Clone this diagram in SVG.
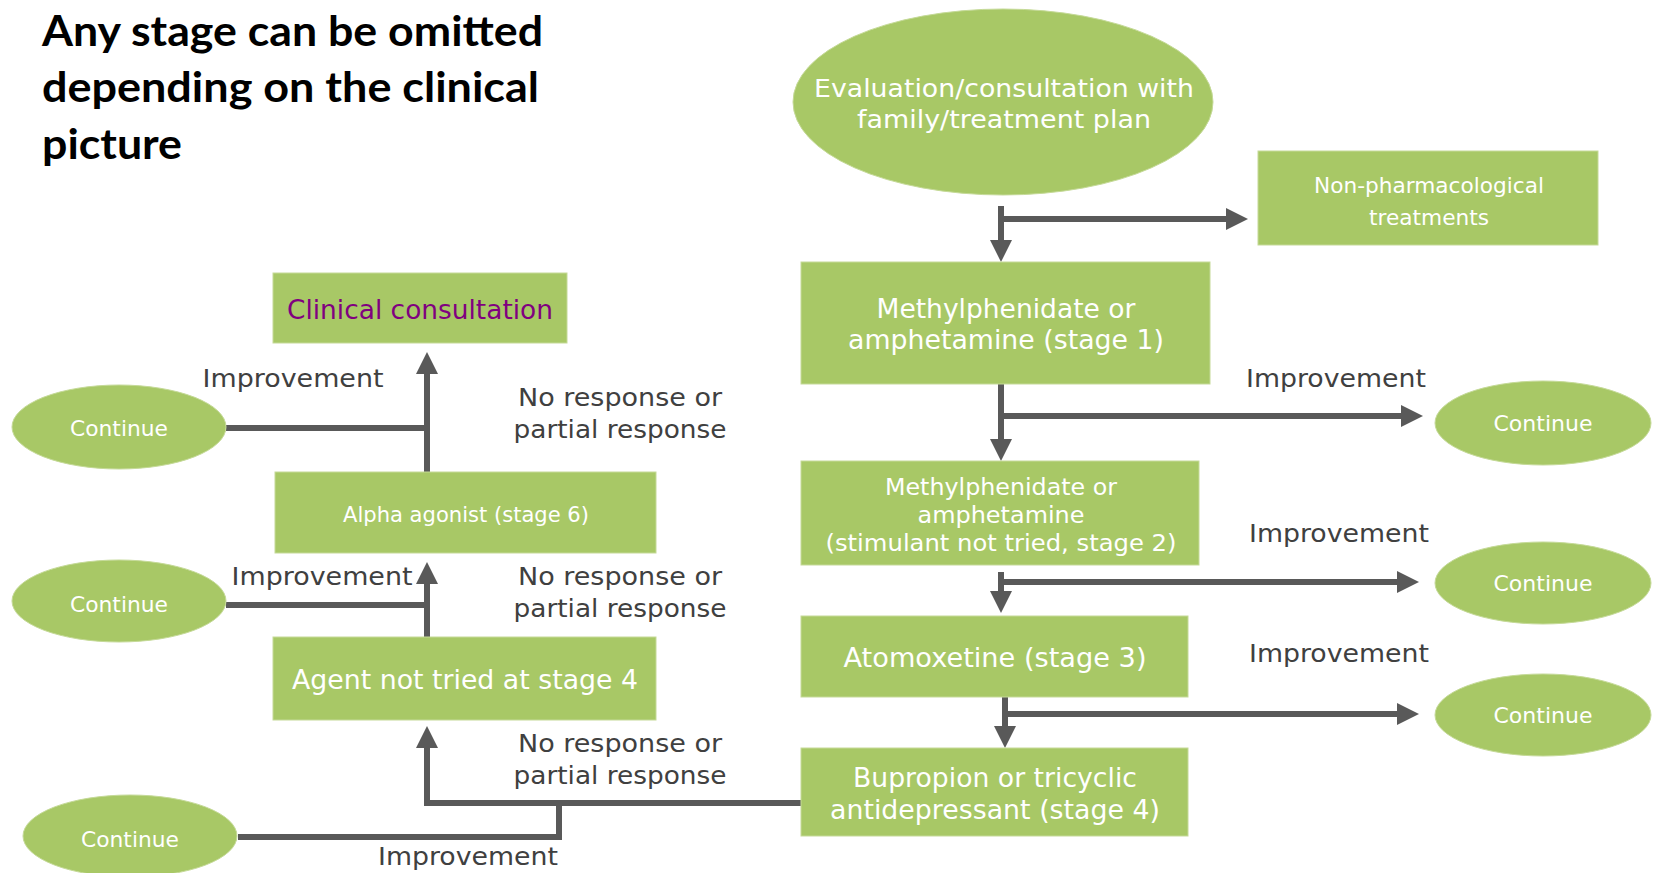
<svg xmlns="http://www.w3.org/2000/svg" width="1657" height="873" viewBox="0 0 1657 873">
<style>
.node{fill:#A8C866;stroke:#C5DA98;stroke-width:1}
.wt{fill:#FFFFFF;font-family:"DejaVu Sans",Verdana,sans-serif;text-anchor:middle}
.lbl{fill:#404040;font-family:"DejaVu Sans",Verdana,sans-serif;text-anchor:middle;font-size:25.5px}
.title{fill:#000000;font-family:Lato,"Open Sans",sans-serif;font-weight:bold;font-size:42px}
.con{fill:none;stroke:#595959;stroke-width:6}
</style>
<defs>
<marker id="ah" markerUnits="userSpaceOnUse" viewBox="0 0 22 22" markerWidth="22" markerHeight="22" refX="2" refY="11" orient="auto">
<path d="M0,0 L22,11 L0,22 z" fill="#595959"/>
</marker>
</defs>
<rect width="1657" height="873" fill="#FFFFFF"/>
<g id="title">
<text class="title" x="42" y="46" textLength="501" lengthAdjust="spacingAndGlyphs">Any stage can be omitted</text>
<text class="title" x="42" y="102" textLength="497" lengthAdjust="spacingAndGlyphs">depending on the clinical</text>
<text class="title" x="42" y="159" textLength="140" lengthAdjust="spacingAndGlyphs">picture</text>
</g>
<g id="connectors">
<path class="con" d="M1001,206 V242" marker-end="url(#ah)"/>
<path class="con" d="M998,219 H1228" marker-end="url(#ah)"/>
<path class="con" d="M1001,384 V441" marker-end="url(#ah)"/>
<path class="con" d="M1001,416 H1403" marker-end="url(#ah)"/>
<path class="con" d="M1001,572 V593" marker-end="url(#ah)"/>
<path class="con" d="M998,582 H1399" marker-end="url(#ah)"/>
<path class="con" d="M1005,697 V728" marker-end="url(#ah)"/>
<path class="con" d="M1005,714 H1399" marker-end="url(#ah)"/>
<path class="con" d="M801,803 H427 V746" marker-end="url(#ah)"/>
<path class="con" d="M559,803 V837 H238"/>
<path class="con" d="M427,637 V582" marker-end="url(#ah)"/>
<path class="con" d="M427,605 H226"/>
<path class="con" d="M427,472 V372" marker-end="url(#ah)"/>
<path class="con" d="M427,428 H226"/>
</g>
<g id="labels">
<text class="lbl" x="1336" y="387" textLength="180" lengthAdjust="spacingAndGlyphs">Improvement</text>
<text class="lbl" x="1339" y="542" textLength="180" lengthAdjust="spacingAndGlyphs">Improvement</text>
<text class="lbl" x="1339" y="662" textLength="180" lengthAdjust="spacingAndGlyphs">Improvement</text>
<text class="lbl" x="468" y="865" textLength="180" lengthAdjust="spacingAndGlyphs">Improvement</text>
<text class="lbl" x="322" y="585" textLength="181" lengthAdjust="spacingAndGlyphs">Improvement</text>
<text class="lbl" x="293" y="387" textLength="181" lengthAdjust="spacingAndGlyphs">Improvement</text>
<text class="lbl" x="620" y="406" textLength="204" lengthAdjust="spacingAndGlyphs">No response or</text>
<text class="lbl" x="620" y="438" textLength="213" lengthAdjust="spacingAndGlyphs">partial response</text>
<text class="lbl" x="620" y="585" textLength="204" lengthAdjust="spacingAndGlyphs">No response or</text>
<text class="lbl" x="620" y="617" textLength="213" lengthAdjust="spacingAndGlyphs">partial response</text>
<text class="lbl" x="620" y="752" textLength="204" lengthAdjust="spacingAndGlyphs">No response or</text>
<text class="lbl" x="620" y="784" textLength="213" lengthAdjust="spacingAndGlyphs">partial response</text>
</g>
<g id="evaluation">
<ellipse class="node" cx="1003" cy="102" rx="210" ry="93"/>
<text class="wt" x="1004" y="97" font-size="25" textLength="380" lengthAdjust="spacingAndGlyphs">Evaluation/consultation with</text>
<text class="wt" x="1004" y="128" font-size="25" textLength="294" lengthAdjust="spacingAndGlyphs">family/treatment plan</text>
</g>
<g id="non-pharm">
<rect class="node" x="1258" y="151" width="340" height="94"/>
<text class="wt" x="1429" y="193" font-size="22" textLength="230" lengthAdjust="spacingAndGlyphs">Non-pharmacological</text>
<text class="wt" x="1429" y="225" font-size="22" textLength="120" lengthAdjust="spacingAndGlyphs">treatments</text>
</g>
<g id="stage1">
<rect class="node" x="801" y="262" width="409" height="122"/>
<text class="wt" x="1006" y="318" font-size="26" textLength="259" lengthAdjust="spacingAndGlyphs">Methylphenidate or</text>
<text class="wt" x="1006" y="349" font-size="26" textLength="316" lengthAdjust="spacingAndGlyphs">amphetamine (stage 1)</text>
</g>
<g id="stage2">
<rect class="node" x="801" y="461" width="398" height="104"/>
<text class="wt" x="1001" y="495" font-size="23" textLength="232" lengthAdjust="spacingAndGlyphs">Methylphenidate or</text>
<text class="wt" x="1001" y="523" font-size="23" textLength="167" lengthAdjust="spacingAndGlyphs">amphetamine</text>
<text class="wt" x="1001" y="551" font-size="23" textLength="351" lengthAdjust="spacingAndGlyphs">(stimulant not tried, stage 2)</text>
</g>
<g id="stage3">
<rect class="node" x="801" y="616" width="387" height="81"/>
<text class="wt" x="995" y="667" font-size="26" textLength="303" lengthAdjust="spacingAndGlyphs">Atomoxetine (stage 3)</text>
</g>
<g id="stage4">
<rect class="node" x="801" y="748" width="387" height="88"/>
<text class="wt" x="995" y="787" font-size="26" textLength="284" lengthAdjust="spacingAndGlyphs">Bupropion or tricyclic</text>
<text class="wt" x="995" y="819" font-size="26" textLength="330" lengthAdjust="spacingAndGlyphs">antidepressant (stage 4)</text>
</g>
<g id="agent">
<rect class="node" x="273" y="637" width="383" height="83"/>
<text class="wt" x="465" y="689" font-size="26" textLength="346" lengthAdjust="spacingAndGlyphs">Agent not tried at stage 4</text>
</g>
<g id="alpha">
<rect class="node" x="275" y="472" width="381" height="81"/>
<text class="wt" x="466" y="522" font-size="21" textLength="246" lengthAdjust="spacingAndGlyphs">Alpha agonist (stage 6)</text>
</g>
<g id="clinical">
<rect class="node" x="273" y="273" width="294" height="70"/>
<text class="wt" x="420" y="319" font-size="26" style="fill:#800080" textLength="266" lengthAdjust="spacingAndGlyphs">Clinical consultation</text>
</g>
<g id="continue1">
<ellipse class="node" cx="1543" cy="423" rx="108" ry="42"/>
<text class="wt" x="1543" y="431" font-size="22" textLength="99" lengthAdjust="spacingAndGlyphs">Continue</text>
</g>
<g id="continue2">
<ellipse class="node" cx="1543" cy="583" rx="108" ry="41"/>
<text class="wt" x="1543" y="591" font-size="22" textLength="99" lengthAdjust="spacingAndGlyphs">Continue</text>
</g>
<g id="continue3">
<ellipse class="node" cx="1543" cy="715" rx="108" ry="41"/>
<text class="wt" x="1543" y="723" font-size="22" textLength="99" lengthAdjust="spacingAndGlyphs">Continue</text>
</g>
<g id="continue4">
<ellipse class="node" cx="130" cy="836" rx="107" ry="41"/>
<text class="wt" x="130" y="847" font-size="22" textLength="98" lengthAdjust="spacingAndGlyphs">Continue</text>
</g>
<g id="continue5">
<ellipse class="node" cx="119" cy="601" rx="107" ry="41"/>
<text class="wt" x="119" y="612" font-size="22" textLength="98" lengthAdjust="spacingAndGlyphs">Continue</text>
</g>
<g id="continue6">
<ellipse class="node" cx="119" cy="427" rx="107" ry="42"/>
<text class="wt" x="119" y="436" font-size="22" textLength="98" lengthAdjust="spacingAndGlyphs">Continue</text>
</g>
</svg>
